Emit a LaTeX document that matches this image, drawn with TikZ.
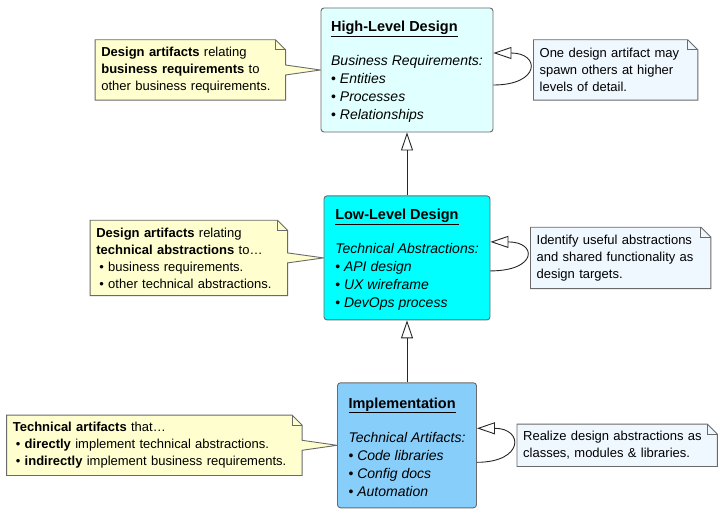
\documentclass[tikz,border=0pt]{standalone}
\usepackage{fontspec}
\setmainfont{Liberation Sans}
\usetikzlibrary{positioning,arrows.meta,backgrounds}

\definecolor{hlfill}{HTML}{E0FFFF}
\definecolor{llfill}{HTML}{00FFFF}
\definecolor{implfill}{HTML}{87CEFA}
\definecolor{noteyellow}{HTML}{FEFECE}
\definecolor{noteblue}{HTML}{F0F8FF}
\definecolor{linegray}{HTML}{6A6A6A}

% note outline with folded corner, with or without a pointer
\newcommand{\notefold}[1]{%
  \draw[noteline] ([xshift=-10pt]#1.north east) -- ++(0pt,-10pt) -- ([yshift=-10pt]#1.north east);}
\newcommand{\plainnote}[2]{%
  \draw[noteline, fill=#2] (#1.north west) -- ([xshift=-10pt]#1.north east)
    -- ([yshift=-10pt]#1.north east) -- (#1.south east) -- (#1.south west) -- cycle;
  \notefold{#1}}
\newcommand{\pointnote}[3]{%
  \draw[noteline, fill=#3] (#1.north west) -- ([xshift=-10pt]#1.north east)
    -- ([yshift=-10pt]#1.north east) -- ([yshift=5pt]#1.east) -- (#2.west)
    -- ([yshift=-5pt]#1.east) -- (#1.south east) -- (#1.south west) -- cycle;
  \notefold{#1}}
% box title
\newcommand{\designtitle}[1]{{\fontsize{14.5pt}{18pt}\selectfont\rule{0pt}{14pt}\underline{\textbf{#1}}}\\[16pt]}

\begin{document}
\begin{tikzpicture}[x=1pt,y=-1pt,
  design/.style={draw=linegray, line width=0.9pt, rounded corners=3pt, align=left,
    inner xsep=0pt, font=\fontsize{14pt}{18pt}\selectfont},
  note/.style={align=left, inner xsep=6pt, inner ysep=0pt, font=\fontsize{13pt}{17pt}\selectfont},
  noteline/.style={draw=linegray, line width=0.9pt},
  refine/.style={draw=black!85, line width=0.9pt, -{Triangle[open,length=18pt,width=12pt]}},
  selfloop/.style={refine, out=0, in=0, distance=47pt}]

\useasboundingbox (0,0) rectangle (721,511);

% Nodes
\node[design, fill=hlfill, minimum width=172pt, minimum height=124pt] (high) at (407,70) {
  \designtitle{High-Level Design}
  \textit{Business Requirements:}\\
  \textbullet\ \textit{Entities}\\
  \textbullet\ \textit{Processes}\\
  \textbullet\ \textit{Relationships}};
\node[design, fill=llfill, minimum width=166pt, minimum height=124pt, below=63pt of high] (low) {
  \designtitle{Low-Level Design}
  \textit{Technical Abstractions:}\\
  \textbullet\ \textit{API design}\\
  \textbullet\ \textit{UX wireframe}\\
  \textbullet\ \textit{DevOps process}};
\node[design, fill=implfill, minimum width=139pt, minimum height=125pt, below=62pt of low] (impl) {
  \designtitle{Implementation}
  \textit{Technical Artifacts:}\\
  \textbullet\ \textit{Code libraries}\\
  \textbullet\ \textit{Config docs}\\
  \textbullet\ \textit{Automation}};

% Notes
\node[note, text width=178pt, minimum height=60pt, left=35pt of high] (hlwhy) {
  \textbf{Design artifacts} relating\\
  \textbf{business requirements} to\\
  other business requirements.};
\node[note, text width=152pt, minimum height=60pt, right=40pt of high] (hlloop) {
  One design artifact may\\
  spawn others at higher\\
  levels of detail.};
\node[note, text width=185pt, minimum height=75pt, left=36pt of low] (llwhy) {
  \textbf{Design artifacts} relating\\
  \textbf{technical abstractions} to\textellipsis\\
  \hspace*{3pt}\textbullet\ business requirements.\\
  \hspace*{3pt}\textbullet\ other technical abstractions.};
\node[note, text width=168pt, minimum height=61pt, right=40pt of low] (llloop) {
  Identify useful abstractions\\
  and shared functionality as\\
  design targets.};
\node[note, text width=283pt, minimum height=60pt, left=35pt of impl] (implwhy) {
  \textbf{Technical artifacts} that\textellipsis\\
  \hspace*{3pt}\textbullet\ \textbf{directly} implement technical abstractions.\\
  \hspace*{3pt}\textbullet\ \textbf{indirectly} implement business requirements.};
\node[note, text width=188pt, minimum height=42pt, right=40pt of impl] (implloop) {
  Realize design abstractions as\\
  classes, modules \& libraries.};

\begin{scope}[on background layer]
  \pointnote{hlwhy}{high}{noteyellow}
  \pointnote{llwhy}{low}{noteyellow}
  \pointnote{implwhy}{impl}{noteyellow}
  \plainnote{hlloop}{noteblue}
  \plainnote{llloop}{noteblue}
  \plainnote{implloop}{noteblue}
\end{scope}

% Connect nodes
\draw[refine] (impl) -- (low);
\draw[refine] (low) -- (high);
\draw[selfloop] ([yshift=-15pt]high.east) to ([yshift=17pt]high.east);
\draw[selfloop] ([yshift=-13pt]low.east) to ([yshift=16pt]low.east);
\draw[selfloop] ([yshift=-17pt]impl.east) to ([yshift=17pt]impl.east);

\end{tikzpicture}
\end{document}
